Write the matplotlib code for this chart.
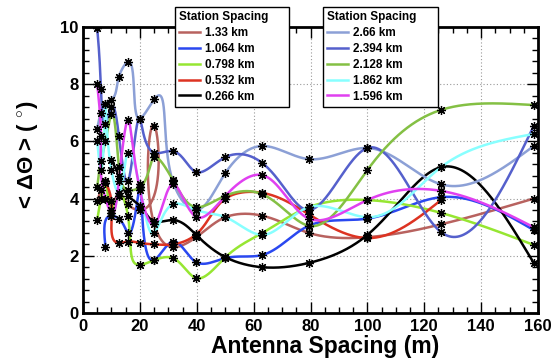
import numpy as np
import matplotlib
matplotlib.use("Agg")
import matplotlib.pyplot as plt

plt.rcParams['font.family'] = ['Liberation Sans', 'DejaVu Sans']
plt.rcParams['font.weight'] = 'bold'
plt.rcParams['mathtext.fontset'] = 'custom'
plt.rcParams['mathtext.rm'] = 'Liberation Sans:bold'
plt.rcParams['mathtext.it'] = 'Liberation Sans:bold'
plt.rcParams['mathtext.bf'] = 'Liberation Sans:bold'

# ---------------- data ----------------
X_FULL = [5.0, 6.3, 7.9, 10.0, 12.6, 15.8, 20.0, 25.1, 31.6, 39.8, 50.1, 63.1, 79.4, 100.0, 125.9, 158.5]

labels_left = ["1.33 km", "1.064 km", "0.798 km", "0.532 km", "0.266 km"]
labels_right = ["2.66 km", "2.394 km", "2.128 km", "1.862 km", "1.596 km"]

x_133 = X_FULL
y_133 = [3.9, 4.3, 4.6, 3.9, 4.1, 3.8, 3.6, 6.55, 2.3, 2.65, 3.35, 3.4, 2.8, 2.65, 3.1, 4.0]
x_1064 = X_FULL[2:]
y_1064 = [2.3, 3.4, 3.3, 2.8, 4.5, 1.85, 2.5, 1.78, 1.92, 2.03, 3.05, 3.3, 4.05, 2.9]
x_0798 = X_FULL
y_0798 = [3.25, 4.0, 4.55, 3.6, 4.1, 3.4, 1.68, 1.85, 1.92, 1.22, 1.95, 2.8, 3.7, 3.95, 3.5, 2.38]
x_0532 = X_FULL[2:15]
y_0532 = [4.6, 3.9, 2.45, 2.5, 2.45, 2.4, 2.4, 2.75, 4.0, 4.2, 3.45, 2.62, 3.95]
x_0266 = X_FULL[3:]
y_0266 = [5.35, 4.8, 4.1, 3.75, 3.2, 3.25, 2.73, 1.95, 1.6, 1.75, 2.73, 5.1, 1.75]

x_266 = X_FULL
y_266 = [6.45, 7.0, 7.3, 7.45, 8.25, 8.78, 6.8, 7.48, 4.6, 3.6, 4.9, 5.84, 5.38, 5.77, 4.5, 5.84]
x_2394 = X_FULL
y_2394 = [9.96, 7.83, 6.6, 7.2, 6.2, 4.6, 6.8, 5.6, 5.66, 4.93, 5.45, 5.24, 3.6, 5.77, 2.83, 6.54]
x_2128 = X_FULL
y_2128 = [4.4, 5.3, 6.0, 6.95, 5.1, 4.3, 4.4, 5.45, 4.65, 3.7, 4.1, 4.15, 3.05, 5.0, 7.1, 7.27]
x_1862 = X_FULL
y_1862 = [6.0, 5.0, 7.3, 5.0, 4.2, 5.6, 4.4, 2.8, 3.8, 3.6, 3.35, 2.73, 3.7, 3.35, 5.1, 6.26]
x_1596 = X_FULL
y_1596 = [8.0, 6.2, 4.0, 3.5, 4.6, 6.75, 4.3, 3.1, 4.5, 3.36, 4.1, 4.82, 3.3, 3.95, 4.27, 3.0]

colors_left = ["#b8625f", "#2a48f0", "#96e632", "#dd3322", "#000000"]
colors_right = ["#8ca0d6", "#5560cc", "#84c044", "#88ffff", "#e040f0"]

series_left = [(x_133, y_133), (x_1064, y_1064), (x_0798, y_0798), (x_0532, y_0532), (x_0266, y_0266)]
series_right = [(x_266, y_266), (x_2394, y_2394), (x_2128, y_2128), (x_1862, y_1862), (x_1596, y_1596)]


def natural_spline(t, v, tt):
    t = np.asarray(t, float)
    v = np.asarray(v, float)
    n = len(t)
    h = np.diff(t)
    A = np.zeros((n, n))
    b = np.zeros(n)
    A[0, 0] = 1.0
    A[-1, -1] = 1.0
    for i in range(1, n - 1):
        A[i, i - 1] = h[i - 1]
        A[i, i] = 2 * (h[i - 1] + h[i])
        A[i, i + 1] = h[i]
        b[i] = 6 * ((v[i + 1] - v[i]) / h[i] - (v[i] - v[i - 1]) / h[i - 1])
    M = np.linalg.solve(A, b)
    idx = np.clip(np.searchsorted(t, tt) - 1, 0, n - 2)
    t0 = t[idx]
    t1 = t[idx + 1]
    hh = t1 - t0
    a = (t1 - tt) / hh
    c = (tt - t0) / hh
    return (a * v[idx] + c * v[idx + 1]
            + ((a ** 3 - a) * M[idx] + (c ** 3 - c) * M[idx + 1]) * hh ** 2 / 6.0)


def smooth_curve(x, y, sx=2.85, sy=28.6):
    x = np.asarray(x, float)
    y = np.asarray(y, float)
    d = np.hypot(np.diff(x) * sx, np.diff(y) * sy)
    t = np.concatenate([[0], np.cumsum(d)])
    tt = np.linspace(0, t[-1], 800)
    return natural_spline(t, x, tt), natural_spline(t, y, tt)


fig = plt.figure(figsize=(5.54, 3.62), dpi=100)
ax = fig.add_axes([83 / 554, 1 - 313 / 362, (538 - 83) / 554, (313 - 27) / 362])

handles_left, handles_right = [], []
for (x, y), c, lab in zip(series_left, colors_left, labels_left):
    cx, cy = smooth_curve(x, y)
    ln, = ax.plot(cx, cy, color=c, lw=1.8, zorder=3, label=lab)
    ax.plot(x, y, ls='none', marker=(8, 2, 0), ms=6.5, mec='black', mew=0.9, zorder=4)
    handles_left.append(ln)
for (x, y), c, lab in zip(series_right, colors_right, labels_right):
    cx, cy = smooth_curve(x, y)
    ln, = ax.plot(cx, cy, color=c, lw=1.8, zorder=3, label=lab)
    ax.plot(x, y, ls='none', marker=(8, 2, 0), ms=6.5, mec='black', mew=0.9, zorder=4)
    handles_right.append(ln)

ax.set_xlim(0, 160)
ax.set_ylim(0, 10)
ax.set_xticks(np.arange(0, 161, 20))
ax.set_xticks(np.arange(0, 161, 5), minor=True)
ax.set_yticks(np.arange(0, 11, 2))
ax.set_yticks(np.arange(0, 10.01, 0.4), minor=True)
ax.tick_params(which='both', direction='in', top=True, right=True, width=1)
ax.tick_params(which='major', length=8, labelsize=12, pad=3)
ax.tick_params(which='minor', length=4)
ax.tick_params(axis='x', which='major', pad=4)
for lbl in ax.get_xticklabels() + ax.get_yticklabels():
    lbl.set_fontweight('bold')
ax.grid(True, which='major', ls=(0, (1, 2)), color='#999999', lw=0.8)
for sp in ax.spines.values():
    sp.set_linewidth(2)

fig.text(325 / 554, 1 - 347 / 362, "Antenna Spacing (m)", fontsize=16.5, fontweight='bold',
         ha='center', va='center')
fig.text(28 / 554, 1 - 155 / 362, r"< $\Delta\Theta$ > ( $^{\circ}$)", fontsize=16,
         fontweight='bold', rotation=90, ha='center', va='center')

legprops = dict(title="Station Spacing", frameon=True, fancybox=False,
                edgecolor='black', framealpha=1, handlelength=1.8, handletextpad=0.4,
                labelspacing=0.33, borderpad=0.35, borderaxespad=0, alignment='left',
                title_fontproperties={'weight': 'bold', 'size': 8.5},
                prop={'weight': 'bold', 'size': 8.5}, loc='upper left', mode='expand',
                bbox_transform=fig.transFigure)
l1 = fig.legend(handles=handles_left, bbox_to_anchor=(175 / 554, 1 - 102 / 362, 114 / 554, 95 / 362), **legprops)
l2 = fig.legend(handles=handles_right, bbox_to_anchor=(323 / 554, 1 - 102 / 362, 115 / 554, 95 / 362), **legprops)
for lg in (l1, l2):
    lg.get_frame().set_linewidth(1)
    lg.set_zorder(10)

fig.savefig("out.png", dpi=100)
